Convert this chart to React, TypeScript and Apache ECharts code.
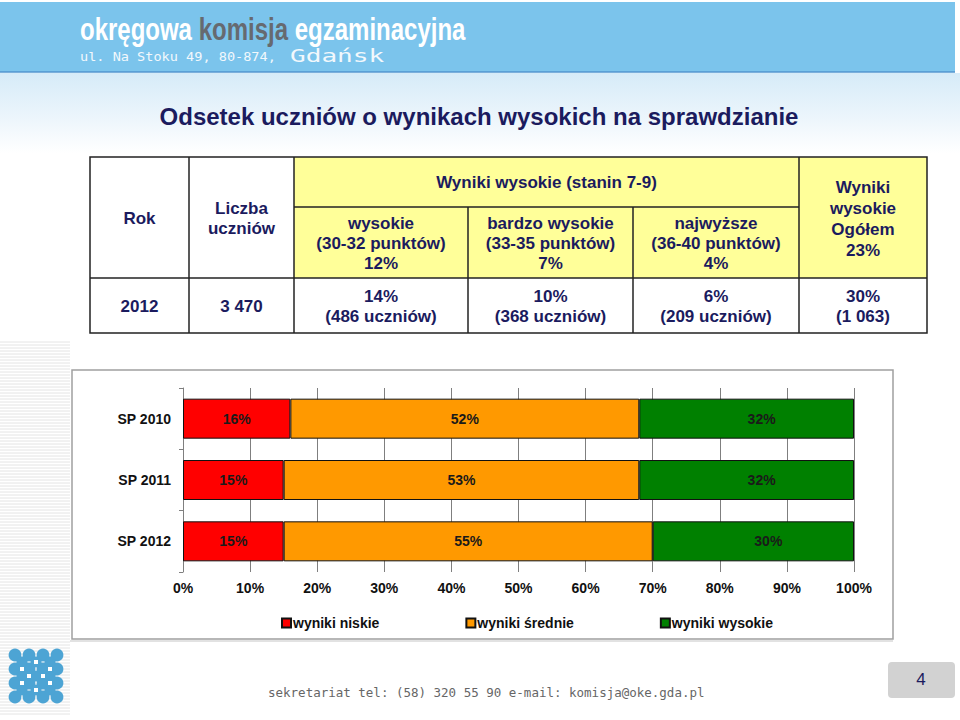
import React, { useEffect, useRef } from "react";
import * as echarts from "echarts";

const categories = ["SP 2010", "SP 2011", "SP 2012"];
const lowValues = [16, 15, 15];
const midValues = [52, 53, 55];
const highValues = [32, 32, 30];
const seriesNames = ["wyniki niskie", "wyniki średnie", "wyniki wysokie"];

const titleText = "Odsetek uczniów o wynikach wysokich na sprawdzianie";
const headerTop = "Wyniki wysokie (stanin 7-9)";
const headerCells = ["Rok", "Liczba\nuczniów"];
const subHeaders = [
  "wysokie\n(30-32 punktów)\n12%",
  "bardzo wysokie\n(33-35 punktów)\n7%",
  "najwyższe\n(36-40 punktów)\n4%",
];
const totalHeader = "Wyniki\nwysokie\nOgółem\n23%";
const dataRow = ["2012", "3 470", "14%\n(486 uczniów)", "10%\n(368 uczniów)", "6%\n(209 uczniów)", "30%\n(1 063)"];

const FONT = "'Liberation Sans', Arial, sans-serif";
const NAVY = "#1b1b5e";

function buildGraphics(): any[] {
  const g: any[] = [];
  // header band
  g.push({ type: "rect", z: -20, shape: { x: 0, y: 2, width: 955, height: 70 }, style: { fill: "#7bc4ec" } });
  g.push({ type: "line", z: -19, shape: { x1: 0, y1: 72, x2: 955, y2: 72 }, style: { stroke: "#4f95cf", lineWidth: 1.5 } });
  g.push({
    type: "rect", z: -20, shape: { x: 0, y: 73, width: 960, height: 80 },
    style: {
      fill: new echarts.graphic.LinearGradient(0, 0, 0, 1, [
        { offset: 0, color: "#d6ebf8" },
        { offset: 0.6, color: "#eef6fc" },
        { offset: 1, color: "#ffffff" },
      ]),
    },
  });
  g.push({
    type: "text", z: 10, x: 80, y: 45, scaleX: 0.75,
    style: {
      text: "{w|okręgowa }{g|komisja}{w| egzaminacyjna}",
      verticalAlign: "bottom",
      rich: {
        w: { fill: "#ffffff", font: `bold 32px ${FONT}` },
        g: { fill: "#666a70", font: `bold 32px ${FONT}` },
      },
    },
  });
  g.push({
    type: "text", z: 10, x: 80, y: 57, scaleX: 1.18,
    style: { text: "ul. Na Stoku 49, 80-874,", fill: "#f2f8fc", font: "11.5px 'DejaVu Sans Mono', monospace", verticalAlign: "middle" },
  });
  g.push({
    type: "text", z: 10, x: 290, y: 56, scaleX: 1.45,
    style: { text: "Gdańsk", fill: "#f2f8fc", font: "18px 'DejaVu Sans Mono', monospace", verticalAlign: "middle" },
  });
  // title
  g.push({
    type: "text", z: 10, x: 479, y: 116,
    style: { text: titleText, fill: NAVY, font: `bold 24px ${FONT}`, align: "center", verticalAlign: "middle" },
  });

  // table
  const xs = [90, 189, 294, 468, 633, 799, 927];
  const yTop = 157, yMid = 207, yRow = 278, yBot = 333;
  const yellow = "#ffff99";
  const stroke = "#222222";
  g.push({ type: "rect", z: 1, shape: { x: xs[0], y: yTop, width: xs[2] - xs[0], height: yRow - yTop }, style: { fill: "#ffffff" } });
  g.push({ type: "rect", z: 1, shape: { x: xs[2], y: yTop, width: xs[6] - xs[2], height: yRow - yTop }, style: { fill: yellow } });
  g.push({ type: "rect", z: 1, shape: { x: xs[0], y: yRow, width: xs[6] - xs[0], height: yBot - yRow }, style: { fill: "#ffffff" } });
  g.push({ type: "rect", z: 3, shape: { x: xs[0], y: yTop, width: xs[6] - xs[0], height: yBot - yTop }, style: { fill: "none", stroke, lineWidth: 1.5 } });
  const lines: number[][] = [
    [xs[1], yTop, xs[1], yBot],
    [xs[2], yTop, xs[2], yBot],
    [xs[3], yMid, xs[3], yBot],
    [xs[4], yMid, xs[4], yBot],
    [xs[5], yTop, xs[5], yBot],
    [xs[2], yMid, xs[5], yMid],
    [xs[0], yRow, xs[6], yRow],
  ];
  lines.forEach(([x1, y1, x2, y2]) =>
    g.push({ type: "line", z: 3, shape: { x1, y1, x2, y2 }, style: { stroke, lineWidth: 1.5 } })
  );
  const txt = (text: string, x: number, y: number, lh = 20) => ({
    type: "text", z: 5, x, y,
    style: { text, fill: NAVY, font: `bold 17px ${FONT}`, align: "center", verticalAlign: "middle", lineHeight: lh },
  });
  g.push(txt(headerCells[0], (xs[0] + xs[1]) / 2, 218));
  g.push(txt(headerCells[1], (xs[1] + xs[2]) / 2, 218));
  g.push(txt(headerTop, (xs[2] + xs[5]) / 2, 182));
  subHeaders.forEach((s, i) => g.push(txt(s, (xs[2 + i] + xs[3 + i]) / 2, 243)));
  g.push(txt(totalHeader, (xs[5] + xs[6]) / 2, 219, 21));
  dataRow.forEach((s, i) => g.push(txt(s, (xs[i] + xs[i + 1]) / 2, 306)));

  // chart box
  g.push({ type: "rect", z: -5, shape: { x: 72, y: 370, width: 821, height: 269 }, style: { fill: "#ffffff", stroke: "#a0a0a0", lineWidth: 1.5 } });

  // left stripes
  for (let y = 342; y < 716; y += 3) {
    g.push({ type: "line", z: -15, shape: { x1: 0, y1: y, x2: 70, y2: y }, style: { stroke: "#e4e4e4", lineWidth: 1 } });
  }
  // logo
  const blue = "#4da4d4";
  [15, 29, 43, 57].forEach((cx) =>
    [655, 669, 683, 697].forEach((cy) =>
      g.push({ type: "circle", z: -4, shape: { cx, cy, r: 6.4 }, style: { fill: blue } })
    )
  );
  [22, 36, 50].forEach((cx) =>
    [662, 676, 690].forEach((cy) =>
      g.push({ type: "circle", z: -4, shape: { cx, cy, r: 5.6 }, style: { fill: blue } })
    )
  );
  [[22, 669], [50, 669], [29, 676], [43, 676], [22, 683], [50, 683], [36, 662], [36, 690]].forEach(([x, y]) =>
    g.push({ type: "rect", z: -3, shape: { x: x - 2, y: y - 2, width: 4, height: 4 }, style: { fill: "#ffffff" } })
  );

  // footer
  g.push({ type: "line", z: -5, shape: { x1: 70, y1: 641, x2: 893, y2: 641 }, style: { stroke: "#d8d8d8", lineWidth: 1.5 } });
  g.push({
    type: "text", z: 10, x: 268, y: 692,
    style: { text: "sekretariat tel: (58) 320 55 90 e-mail: komisja@oke.gda.pl", fill: "#666666", font: "12.5px 'DejaVu Sans Mono', monospace", verticalAlign: "middle" },
  });
  g.push({ type: "rect", z: -5, shape: { x: 888, y: 662, width: 67, height: 36, r: 4 }, style: { fill: "#d2d2d2" } });
  g.push({
    type: "text", z: 10, x: 921, y: 679,
    style: { text: "4", fill: NAVY, font: `17px ${FONT}`, align: "center", verticalAlign: "middle" },
  });
  return g;
}

export default function App() {
  const ref = useRef<HTMLDivElement>(null);
  useEffect(() => {
    if (!ref.current) return;
    const chart = echarts.init(ref.current, null, { renderer: "svg" });
    const colors = ["#ff0000", "#ff9900", "#008000"];
    const values = [lowValues, midValues, highValues];
    chart.setOption({
      animation: false,
      backgroundColor: "#ffffff",
      graphic: { elements: buildGraphics() },
      legend: {
        left: 281,
        top: 616,
        itemWidth: 9,
        itemHeight: 9,
        itemGap: 86,
        icon: "rect",
        padding: 0,
        textStyle: { fontFamily: FONT, fontSize: 14, fontWeight: "bold", color: "#111111", padding: [0, 0, 0, -3] },
        data: seriesNames,
      },
      grid: { left: 183, right: 106, top: 388, bottom: 148, containLabel: false },
      xAxis: {
        type: "value",
        min: 0,
        max: 100,
        interval: 10,
        axisLine: { show: false },
        axisTick: { show: false },
        splitLine: { show: true, lineStyle: { color: "#7f7f7f", width: 1 } },
        axisLabel: { formatter: "{value}%", fontFamily: FONT, fontSize: 14, fontWeight: "bold", color: "#111111", margin: 9 },
      },
      yAxis: {
        type: "category",
        data: categories,
        inverse: true,
        axisLine: { show: true, lineStyle: { color: "#7f7f7f", width: 1 } },
        axisTick: { show: true, length: 4, lineStyle: { color: "#7f7f7f" } },
        axisLabel: { fontFamily: FONT, fontSize: 14, fontWeight: "bold", color: "#111111", margin: 12 },
      },
      series: seriesNames.map((name, i) => ({
        name,
        type: "bar",
        stack: "total",
        data: values[i],
        barWidth: 40,
        itemStyle: { color: colors[i], borderColor: "#111111", borderWidth: 1 },
        label: {
          show: true,
          position: "inside",
          formatter: "{c}%",
          fontFamily: FONT,
          fontSize: 14,
          fontWeight: "bold",
          color: "#1a1a1a",
          offset: i === 2 ? [15, 0] : [0, 0],
        },
      })),
    });
    return () => chart.dispose();
  }, []);
  return <div ref={ref} style={{ position: "fixed", left: 0, top: 0, width: 960, height: 720 }} />;
}
